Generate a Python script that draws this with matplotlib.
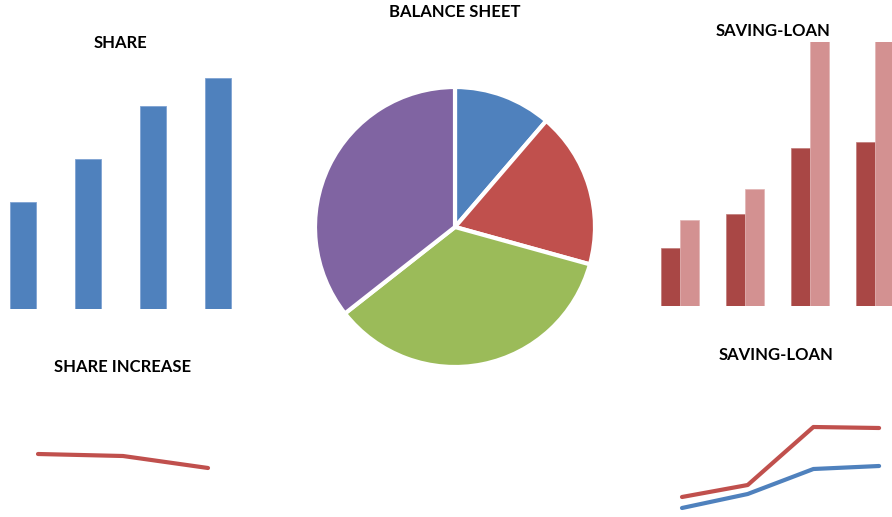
import matplotlib.pyplot as plt
import numpy as np

plt.rcParams['font.family'] = ['Lato', 'DejaVu Sans']

# ---------- Data ----------
share_periods = ['1', '2', '3', '4']
share_values = [107, 150, 203, 231]

balance_labels = ['A', 'B', 'C', 'D']
balance_values = [11.3, 18.0, 35.1, 35.6]

sl_periods = ['1', '2', '3', '4']
saving_values = [58, 92, 158, 164]
loan_values = [86, 117, 275, 272]

share_increase = [63, 61, 49]

sl_saving_line = [9, 23, 48, 51]
sl_loan_line = [20, 32, 90, 89]

# ---------- Colours ----------
BLUE = '#4F81BD'
RED = '#C0504D'
GREEN = '#9BBB59'
PURPLE = '#8064A2'
DARK_RED = '#A94745'
LIGHT_RED = '#D39191'

W, H = 892, 517
fig = plt.figure(figsize=(W / 100, H / 100), dpi=100)


def add_ax(x0, y0, x1, y1):
    # pixel box (top-left origin) -> figure fraction axes
    ax = fig.add_axes([x0 / W, 1 - y1 / H, (x1 - x0) / W, (y1 - y0) / H])
    ax.axis('off')
    return ax


def title(x, y, s):
    fig.text(x / W, 1 - y / H, s, ha='center', va='center',
             fontsize=12, fontweight='bold', color='black')


# ---------- SHARE bars ----------
ax1 = add_ax(0, 60, 250, 309)
x = np.arange(len(share_values))
ax1.bar(x, share_values, width=0.4, color=BLUE, edgecolor='#7FA3D3', linewidth=0.6)
ax1.set_xlim(-23 / 65, 3 + 32 / 65)
ax1.set_ylim(0, 249)
title(120, 43, 'SHARE')

# ---------- BALANCE SHEET pie ----------
ax2 = add_ax(315, 87, 595, 367)
ax2.pie(balance_values, colors=[BLUE, RED, GREEN, PURPLE], startangle=90,
        counterclock=False, radius=1,
        wedgeprops=dict(edgecolor='white', linewidth=3))
ax2.set_xlim(-1, 1)
ax2.set_ylim(-1, 1)
ax2.set_aspect('equal')
title(455, 12, 'BALANCE SHEET')

# ---------- SAVING-LOAN bars ----------
ax3 = add_ax(640, 42, 892, 306)
x = np.arange(len(saving_values))
bw = 19 / 65
ax3.bar(x - bw / 2, saving_values, width=bw, color=DARK_RED, edgecolor='#C07A78', linewidth=0.5)
ax3.bar(x + bw / 2, loan_values, width=bw, color=LIGHT_RED, edgecolor='#E2B3B3', linewidth=0.5)
ax3.set_xlim(-40 / 65, 212 / 65)
ax3.set_ylim(0, 264)
title(773, 31, 'SAVING-LOAN')

# ---------- SHARE INCREASE line ----------
ax4 = add_ax(0, 390, 250, 517)
x = np.arange(len(share_increase))
ax4.plot(x, share_increase, color=RED, linewidth=3, solid_capstyle='round')
ax4.set_xlim(-38 / 85, (250 - 38) / 85)
ax4.set_ylim(0, 127)
title(123, 367, 'SHARE INCREASE')

# ---------- SAVING-LOAN lines ----------
ax5 = add_ax(640, 380, 892, 517)
x = np.arange(len(sl_loan_line))
ax5.plot(x, sl_loan_line, color=RED, linewidth=3, solid_capstyle='round')
ax5.plot(x, sl_saving_line, color=BLUE, linewidth=3, solid_capstyle='round')
ax5.set_xlim(-42 / 65.7, (252 - 42) / 65.7)
ax5.set_ylim(0, 137)
title(776, 355, 'SAVING-LOAN')

fig.savefig('out.png', dpi=100, facecolor='white')
